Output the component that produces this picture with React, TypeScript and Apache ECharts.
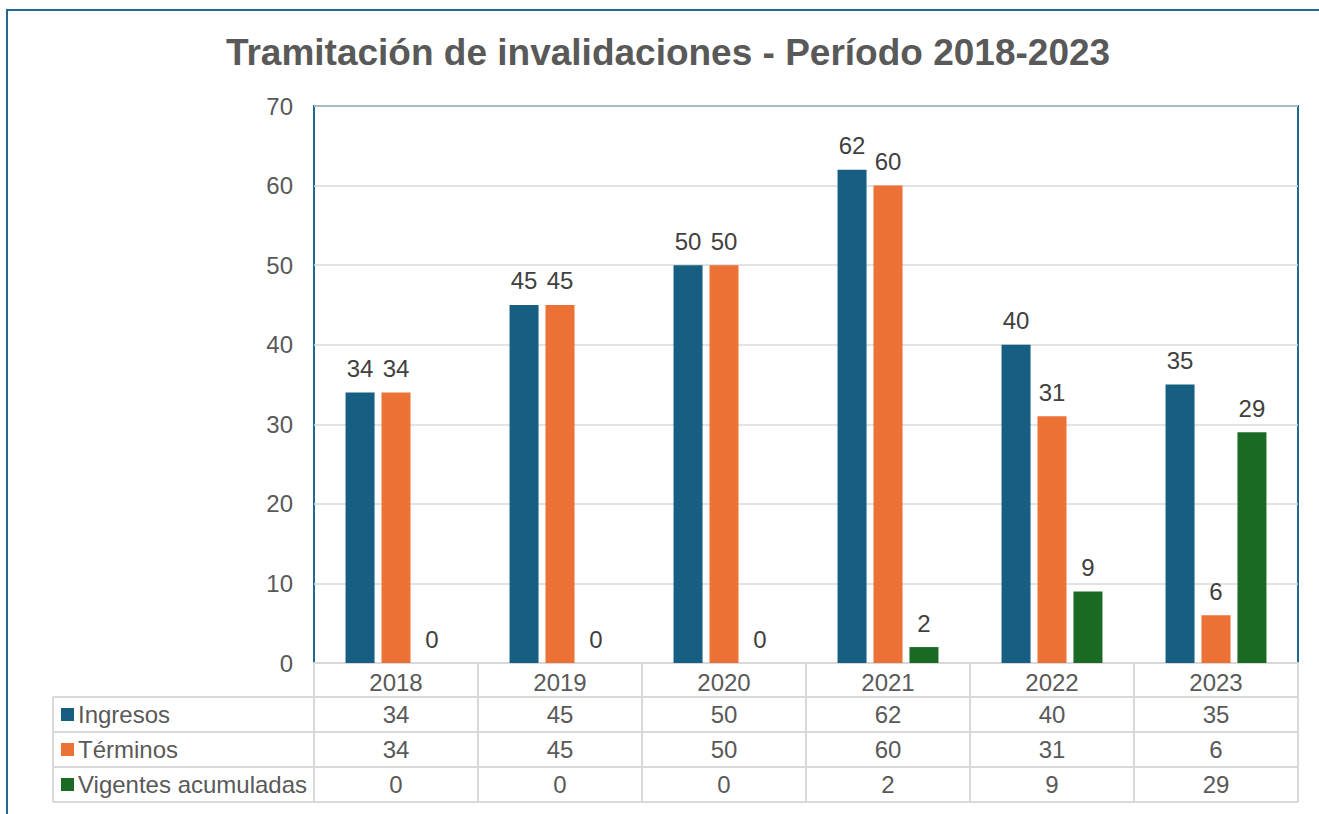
import React, { useEffect, useRef } from "react";
import * as echarts from "echarts";

const years = ["2018", "2019", "2020", "2021", "2022", "2023"];
const ingresos = [34, 45, 50, 62, 40, 35];
const terminos = [34, 45, 50, 60, 31, 6];
const vigentes = [0, 0, 0, 2, 9, 29];
const seriesNames = ["Ingresos", "Términos", "Vigentes acumuladas"];
const seriesColors = ["#165e82", "#eb7134", "#1b6a24"];
const titleText = "Tramitación de invalidaciones - Período 2018-2023";

const FONT = "'Liberation Sans', Arial, sans-serif";
const GRID_LINE = "#d9d9d9";
const BORDER_BLUE = "#1f6a8e";
const FS = 24;

export default function App() {
  const ref = useRef<HTMLDivElement>(null);

  useEffect(() => {
    if (!ref.current) return;
    const chart = echarts.init(ref.current, undefined, { renderer: "svg" });
    const seriesData = [ingresos, terminos, vigentes];

    chart.setOption({
      animation: false,
      backgroundColor: "#ffffff",
      textStyle: { fontFamily: FONT },
      grid: {
        left: 314,
        top: 106,
        right: 21,
        bottom: 151,
        show: true,
        borderColor: BORDER_BLUE,
        borderWidth: 2,
        backgroundColor: "transparent",
      },
      xAxis: {
        type: "category",
        data: years,
        axisLine: { show: true, lineStyle: { color: GRID_LINE, width: 2 } },
        axisTick: { show: false },
        axisLabel: { color: "#595959", fontSize: FS, margin: 7, fontFamily: FONT },
      },
      yAxis: {
        type: "value",
        min: 0,
        max: 70,
        interval: 10,
        axisLine: { show: false },
        axisTick: { show: false },
        splitLine: { lineStyle: { color: GRID_LINE, width: 1.5 } },
        axisLabel: { color: "#595959", fontSize: FS, margin: 21, fontFamily: FONT },
      },
      series: seriesNames.map((name, i) => ({
        name,
        type: "bar",
        data: seriesData[i],
        barWidth: 29,
        barGap: "24%",
        itemStyle: { color: seriesColors[i] },
        label: {
          show: true,
          position: "top",
          distance: 12,
          color: "#404040",
          fontSize: FS,
          fontFamily: FONT,
        },
      })),
    });

    // Build the data table from axis scales
    const c0 = chart.convertToPixel({ xAxisIndex: 0 }, 0) as number;
    const c1 = chart.convertToPixel({ xAxisIndex: 0 }, 1) as number;
    const half = (c1 - c0) / 2;
    const y0 = chart.convertToPixel({ yAxisIndex: 0 }, 0) as number;
    const rowH = 35;
    const headerH = 34;
    const tableLeft = 53;
    const plotLeft = c0 - half;
    const plotRight = (chart.convertToPixel({ xAxisIndex: 0 }, years.length - 1) as number) + half;
    const rowTops = [y0 + headerH, y0 + headerH + rowH, y0 + headerH + 2 * rowH];
    const tableBottom = y0 + headerH + 3 * rowH;

    const lineStyle = { stroke: GRID_LINE, lineWidth: 2 };
    const graphics: any[] = [];

    // outer border
    graphics.push({
      type: "rect",
      shape: { x: 7, y: 10, width: 1400, height: 900 },
      style: { fill: "none", stroke: BORDER_BLUE, lineWidth: 2 },
      z: 100,
    });
    // title
    graphics.push({
      type: "text",
      x: 668,
      y: 52,
      style: {
        text: titleText,
        font: `bold 37px ${FONT}`,
        fill: "#595959",
        textAlign: "center",
        textVerticalAlign: "middle",
      },
    });

    // horizontal lines
    rowTops.forEach((yy) => {
      graphics.push({ type: "line", shape: { x1: tableLeft, y1: yy, x2: plotRight, y2: yy }, style: lineStyle });
    });
    graphics.push({ type: "line", shape: { x1: tableLeft, y1: tableBottom, x2: plotRight, y2: tableBottom }, style: lineStyle });
    // vertical lines
    graphics.push({ type: "line", shape: { x1: tableLeft, y1: rowTops[0], x2: tableLeft, y2: tableBottom }, style: lineStyle });
    graphics.push({ type: "line", shape: { x1: plotLeft, y1: y0, x2: plotLeft, y2: tableBottom }, style: lineStyle });
    years.forEach((_, i) => {
      const cx = chart.convertToPixel({ xAxisIndex: 0 }, i) as number;
      const xr = cx + half;
      graphics.push({ type: "line", shape: { x1: xr, y1: y0, x2: xr, y2: tableBottom }, style: lineStyle });
    });

    // row labels + values
    seriesNames.forEach((name, r) => {
      const cy = rowTops[r] + rowH / 2;
      graphics.push({
        type: "rect",
        shape: { x: 61, y: cy - 6.5, width: 13, height: 13 },
        style: { fill: seriesColors[r] },
      });
      graphics.push({
        type: "text",
        x: 78,
        y: cy,
        style: {
          text: name,
          font: `${FS}px ${FONT}`,
          fill: "#595959",
          textAlign: "left",
          textVerticalAlign: "middle",
        },
      });
      seriesData[r].forEach((v, i) => {
        const cx = chart.convertToPixel({ xAxisIndex: 0 }, i) as number;
        graphics.push({
          type: "text",
          x: cx,
          y: cy,
          style: {
            text: String(v),
            font: `${FS}px ${FONT}`,
            fill: "#595959",
            textAlign: "center",
            textVerticalAlign: "middle",
          },
        });
      });
    });

    chart.setOption({ graphic: { elements: graphics } });

    return () => chart.dispose();
  }, []);

  return (
    <div
      ref={ref}
      style={{ position: "fixed", left: 0, top: 0, width: 1319, height: 814 }}
    />
  );
}
